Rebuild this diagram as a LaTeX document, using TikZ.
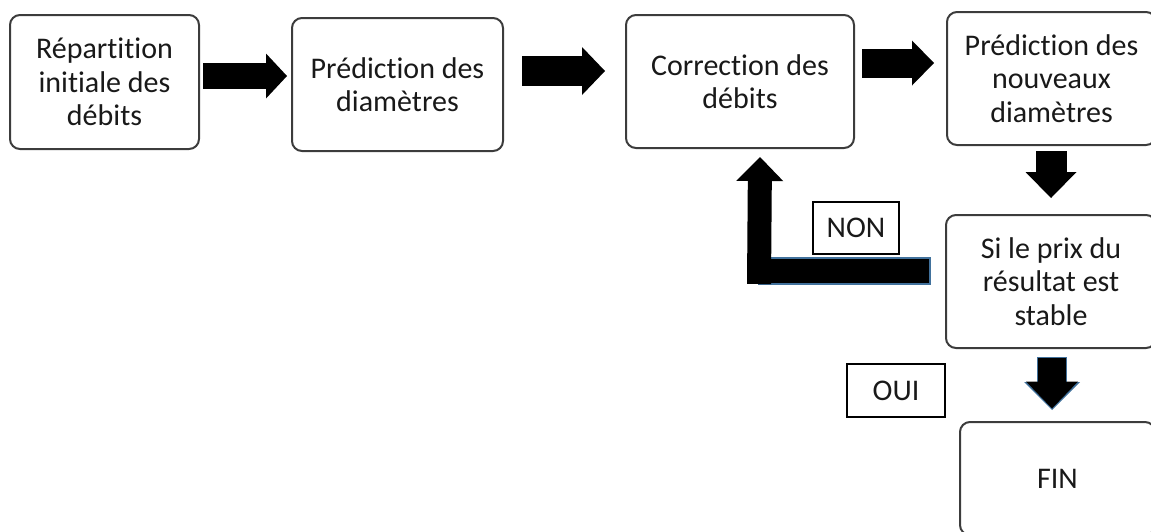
\documentclass[tikz,border=0pt]{standalone}
\usepackage{fontspec}
\setmainfont[Ligatures=NoCommon]{Carlito}
\usetikzlibrary{arrows.meta,calc}
\definecolor{edgegray}{HTML}{3C3C3C}
\definecolor{steel}{HTML}{41719C}
\begin{document}
\begin{tikzpicture}[x=0.5pt,y=-0.5pt,
  box/.style={draw=edgegray, line width=1pt, rounded corners=5pt, align=center,
    font=\fontsize{15}{16.8}\selectfont, text=black!90, inner sep=0pt},
  lbl/.style={draw=black, line width=0.75pt, align=center,
    font=\fontsize{15}{16.8}\selectfont, text=black!90, inner sep=0pt},
]
\useasboundingbox (0,0) rectangle (1151,531);

% boxes
\node[box, minimum width=94.5pt, minimum height=67pt] (b1) at (104.5,82) {Répartition\\initiale des\\débits};
\node[box, minimum width=105.5pt, minimum height=66.5pt] (b2) at (397.5,84.5) {Prédiction des\\diamètres};
\node[box, minimum width=114pt, minimum height=66.5pt] (b3) at (740,81.5) {Correction des\\débits};
\node[box, minimum width=104.5pt, minimum height=66.5pt] (b4) at (1051.5,78.5) {Prédiction des\\nouveaux\\diamètres};
\node[box, minimum width=105pt, minimum height=66.5pt] (b5) at (1051,281.5) {Si le prix du\\résultat est\\stable};
\node[box, minimum width=97.5pt, minimum height=56.5pt] (fin) at (1057.5,478.5) {FIN};

% labels
\node[lbl, minimum width=43pt, minimum height=26pt] (non) at (856,228) {NON};
\node[lbl, minimum width=49pt, minimum height=26.5pt] (oui) at (896,390.5) {OUI};

% horizontal block arrows
\draw[line width=13pt, -{Triangle[length=10.5pt,width=22.5pt,line width=0pt]}]
  ($(b1.east)+(3,-6)$) -- ($(b2.west)+(-4,-8.5)$);
\draw[line width=15pt, -{Triangle[length=11.5pt,width=24pt,line width=0pt]}]
  ($(b2.east)+(18,-13.5)$) -- ($(b3.west)+(-20,-10.5)$);
\draw[line width=14.5pt, -{Triangle[length=11pt,width=22.5pt,line width=0pt]}]
  ($(b3.east)+(7,-18.5)$) -- ($(b4.west)+(-12,-15.5)$);

% vertical block arrows
\draw[line width=15.5pt, -{Triangle[length=13pt,width=25.5pt,line width=0pt]}]
  ($(b4.south)+(-0.5,5)$) -- ($(b5.north)+(0,-16)$);
\draw[steel, line width=15pt, -{Triangle[length=14pt,width=28pt,line width=0pt]}]
  ($(b5.south)+(1,8)$) -- ($(fin.north)+(-5.5,-11)$);
\draw[line width=14pt, -{Triangle[length=13.5pt,width=26pt,line width=0pt]}]
  ($(b5.south)+(1,9)$) -- ($(fin.north)+(-5.5,-12.5)$);

% NON loop back
\filldraw[fill=black, draw=steel, line width=0.6pt]
  ($(b5.west)+(-186,-23.5)$) rectangle ($(b5.west)+(-15,2.5)$);
\draw[line width=12pt, -{Triangle[length=12pt,width=23.5pt,line width=0pt]}]
  ($(b5.west)+(-186,2.5)$) -- ($(b3.south)+(20,8)$);
\end{tikzpicture}
\end{document}
